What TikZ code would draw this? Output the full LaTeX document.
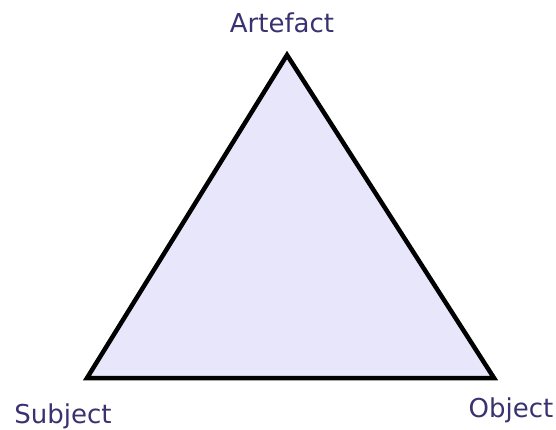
\documentclass[tikz,border=0pt]{standalone}
\usepackage{fontspec}
\setmainfont{DejaVu Sans}
\definecolor{labelcol}{HTML}{3A3270}
\definecolor{trifill}{HTML}{E8E6FA}
\begin{document}
\begin{tikzpicture}[x=1pt,y=-1pt,
  vlabel/.style={text=labelcol,font=\fontsize{26}{30}\selectfont,anchor=base,inner sep=0pt}]
\useasboundingbox (0,0) rectangle (556,430);
\coordinate (A) at (287,55);
\coordinate (S) at (87,378);
\coordinate (O) at (494,378);
\filldraw[fill=trifill,draw=black,line width=4.5pt,line join=miter] (A) -- (S) -- (O) -- cycle;
\node[vlabel] (artefact) at (282,33) {Artefact};
\node[vlabel] (subject) at (63,423) {Subject};
\node[vlabel] (object) at (511,417) {Object};
\end{tikzpicture}
\end{document}
